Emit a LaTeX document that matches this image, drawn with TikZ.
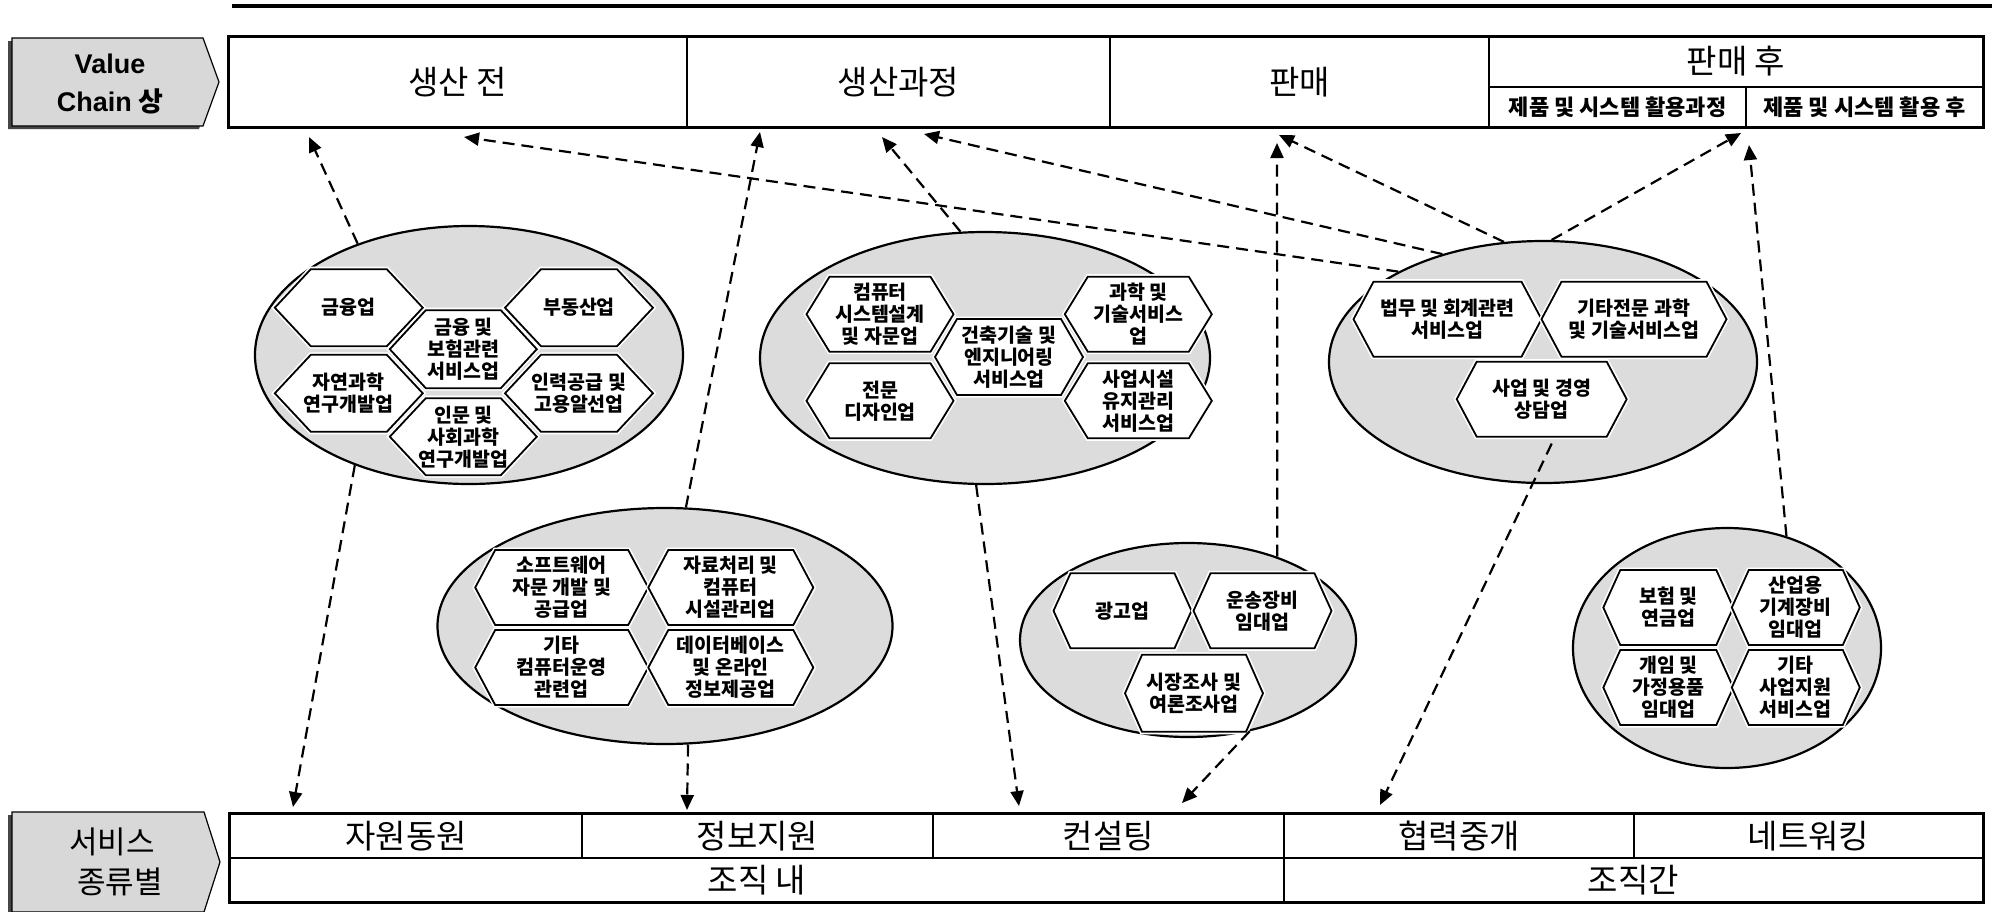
\documentclass[tikz,border=0pt]{standalone}
\usepackage{fontspec}
\setmainfont{Noto Sans CJK KR}
\newfontfamily\latfont{Liberation Sans}
\usetikzlibrary{arrows.meta,shapes.geometric}
\definecolor{ellgray}{RGB}{220,220,220}
\definecolor{lblgray}{RGB}{216,216,216}
\definecolor{shadowgray}{RGB}{70,70,70}
\newcommand\hexfnt{\bfseries\fontsize{19.5}{22}\selectfont}
\newcommand\hdrfnt{\fontsize{33}{38}\selectfont}
\newcommand\subfnt{\bfseries\fontsize{22}{26}\selectfont}
\newcommand\hexn[7]{%
  \path[hexhalo] (#2-#4/2,#3) -- (#2-#4/2+#6,#3-#5/2) -- (#2+#4/2-#6,#3-#5/2) -- (#2+#4/2,#3) -- (#2+#4/2-#6,#3+#5/2) -- (#2-#4/2+#6,#3+#5/2) -- cycle;
  \path[hexbody] (#2-#4/2,#3) -- (#2-#4/2+#6,#3-#5/2) -- (#2+#4/2-#6,#3-#5/2) -- (#2+#4/2,#3) -- (#2+#4/2-#6,#3+#5/2) -- (#2-#4/2+#6,#3+#5/2) -- cycle;
  \node[hextext] (#1) at (#2,#3) {#7};}
\begin{document}
\begin{tikzpicture}[x=1pt,y=-1pt,
  ell/.style={ellipse, draw=black, line width=2.2pt, fill=ellgray, inner sep=0pt},
  hexhalo/.style={draw=white, line width=5pt, line join=miter},
  hexbody/.style={fill=white, draw=black, line width=1.8pt, line join=miter},
  hextext/.style={font=\hexfnt, align=center, inner sep=0pt},
  hdr/.style={draw=black, line width=3pt},
  hdrin/.style={draw=black, line width=2.6pt},
  lbl/.style={fill=lblgray, draw=black, line width=1.2pt, line join=miter},
  hdrtext/.style={font=\hdrfnt, inner sep=0pt},
  subtext/.style={font=\subfnt, inner sep=0pt},
  arr/.style={draw=black, line width=2.2pt, dash pattern=on 12pt off 7pt, -{Triangle[length=15pt,width=13pt]}}
]
\useasboundingbox (0,0) rectangle (1992,911);

% top rule
\coordinate (r1) at (232,6);
\coordinate (r2) at (1992,6);
\draw[line width=3.5pt] (r1) -- (r2);

% left labels
\fill[shadowgray, shift={(-4,3)}] (12,38) -- (203,38) -- (219,82) -- (203,126) -- (12,126) -- cycle;
\draw[lbl] (12,38) -- (203,38) -- (219,82) -- (203,126) -- (12,126) -- cycle;
\node[font=\bfseries\fontsize{27}{38}\selectfont, align=center, inner sep=0pt] (vc) at (110,84) {{\latfont Value}\\{\latfont Chain} 상};

\fill[shadowgray, shift={(-4,3)}] (12,812) -- (204,812) -- (220,862) -- (204,912) -- (12,912) -- cycle;
\draw[lbl] (12,812) -- (204,812) -- (220,862) -- (204,912) -- (12,912) -- cycle;
\node[font=\fontsize{31}{36}\selectfont, inner sep=0pt] (sv1) at (112,842) {서비스};
\node[font=\fontsize{31}{36}\selectfont, inner sep=0pt] (sv2) at (120,882) {종류별};

% header table
\draw[hdr] (228.5,36) rectangle (1983,127);
\draw[hdrin] (687,36) -- (687,127);
\draw[hdrin] (1110,36) -- (1110,127);
\draw[hdrin] (1489,36) -- (1489,127);
\draw[hdrin] (1489,87) -- (1983,87);
\draw[hdrin] (1746,87) -- (1746,127);
\node[hdrtext] (v1) at (457.5,82) {생산 전};
\node[hdrtext] (v2) at (898.5,82) {생산과정};
\node[hdrtext] (v3) at (1299.5,82) {판매};
\node[hdrtext] (v4) at (1736,61) {판매 후};
\node[subtext] (v5) at (1617.5,107) {제품 및 시스템 활용과정};
\node[subtext] (v6) at (1864.5,107) {제품 및 시스템 활용 후};

% bottom table
\draw[hdr] (229.5,813) rectangle (1983,902);
\draw[hdrin] (229.5,858) -- (1983,858);
\draw[hdrin] (582,813) -- (582,858);
\draw[hdrin] (933,813) -- (933,858);
\draw[hdrin] (1284,813) -- (1284,902);
\draw[hdrin] (1634,813) -- (1634,858);
\node[hdrtext] (s1) at (406,836) {자원동원};
\node[hdrtext] (s2) at (757.5,836) {정보지원};
\node[hdrtext] (s3) at (1108.5,836) {컨설팅};
\node[hdrtext] (s4) at (1459,836) {협력중개};
\node[hdrtext] (s5) at (1808.5,836) {네트워킹};
\node[hdrtext] (o1) at (757,880) {조직 내};
\node[hdrtext] (o2) at (1633.5,880) {조직간};

% ellipses
\node[ell, minimum width=428pt, minimum height=258pt] (eA) at (469,355) {};
\node[ell, minimum width=450pt, minimum height=252pt] (eB) at (985,358) {};
\node[ell, minimum width=428pt, minimum height=242pt] (eC) at (1543,362) {};
\node[ell, minimum width=455pt, minimum height=236pt] (eD) at (665,626) {};
\node[ell, minimum width=336pt, minimum height=194pt] (eE) at (1188,640) {};
\node[ell, minimum width=308pt, minimum height=240pt] (eF) at (1727,648) {};

% hexagons A
\hexn{a1}{348.8}{307.7}{148}{77}{36}{금융업}
\hexn{a2}{579}{307.7}{148}{77}{36}{부동산업}
\hexn{a4}{348.8}{393.3}{148}{77}{36}{자연과학\\연구개발업}
\hexn{a5}{579}{393.3}{148}{77}{36}{인력공급 및\\고용알선업}
\hexn{a3}{463.3}{349.2}{147}{78}{36}{금융 및\\보험관련\\서비스업}
\hexn{a6}{463.3}{436.7}{147}{77}{36}{인문 및\\사회과학\\연구개발업}
% hexagons B
\hexn{b1}{880}{314.2}{147}{75}{23}{컴퓨터\\시스템설계\\및 자문업}
\hexn{b2}{880}{400.8}{147}{75}{23}{전문\\디자인업}
\hexn{b4}{1138.3}{314.2}{147}{75}{23}{과학 및\\기술서비스\\업}
\hexn{b5}{1138.3}{400.8}{147}{75}{23}{사업시설\\유지관리\\서비스업}
\hexn{b3}{1009}{357}{148}{76}{22}{건축기술 및\\엔지니어링\\서비스업}
% hexagons C
\hexn{c1}{1447.5}{319.2}{188}{75}{20}{법무 및 회계관련\\서비스업}
\hexn{c2}{1634}{319.2}{185}{75}{20}{기타전문 과학\\및 기술서비스업}
\hexn{c3}{1541.7}{399.2}{170}{75}{20}{사업 및 경영\\상담업}
% hexagons D
\hexn{d1}{561.7}{587.5}{173}{75}{20}{소프트웨어\\자문 개발 및\\공급업}
\hexn{d2}{730.8}{587.5}{165}{75}{20}{자료처리 및\\컴퓨터\\시설관리업}
\hexn{d3}{561.7}{667.5}{173}{75}{20}{기타\\컴퓨터운영\\관련업}
\hexn{d4}{730.8}{667.5}{165}{75}{20}{데이터베이스\\및 온라인\\정보제공업}
% hexagons E
\hexn{e1}{1122.5}{610.8}{138}{75}{17}{광고업}
\hexn{e2}{1262.5}{610.8}{138}{75}{17}{운송장비\\임대업}
\hexn{e3}{1194}{693.3}{138}{77}{17}{시장조사 및\\여론조사업}
% hexagons F
\hexn{f1}{1668.3}{607.5}{130}{75}{17}{보험 및\\연금업}
\hexn{f2}{1795.8}{607.5}{128}{75}{17}{산업용\\기계장비\\임대업}
\hexn{f3}{1668.3}{687.5}{130}{75}{17}{개임 및\\가정용품\\임대업}
\hexn{f4}{1795.8}{687.5}{128}{75}{17}{기타\\사업지원\\서비스업}

% arrow tips
\coordinate (t1) at (309,137);
\coordinate (t9) at (464,137);
\coordinate (t3) at (760,132);
\coordinate (t5) at (882,137);
\coordinate (t10) at (924,134);
\coordinate (t7) at (1277,143);
\coordinate (t11) at (1279,135);
\coordinate (t12) at (1741,133);
\coordinate (t13) at (1749,145);
\coordinate (b2t) at (293,807);
\coordinate (b4t) at (687,810);
\coordinate (b6t) at (1019,806);
\coordinate (b8t) at (1182,803);
\coordinate (b14t) at (1380,805);

% connectors
\draw[arr] (eA.135) -- (t1);
\draw[arr] (eA.224) -- (b2t);
\draw[arr] (eD.80) -- (t3);
\draw[arr] (eD.281) -- (b4t);
\draw[arr] (eB.101) -- (t5);
\draw[arr] (eB.266) -- (b6t);
\draw[arr] (eE.43) -- (t7);
\draw[arr] (eE.304) -- (b8t);
\draw[arr] (eC.148) -- (t9);
\draw[arr] (eC.133) -- (t10);
\draw[arr] (eC.108) -- (t11);
\draw[arr] (eC.86) -- (t12);
\draw[arr] (eF.62) -- (t13);
\draw[arr] ([shift={(10,24)}]c3.south) -- (b14t);
\end{tikzpicture}
\end{document}
